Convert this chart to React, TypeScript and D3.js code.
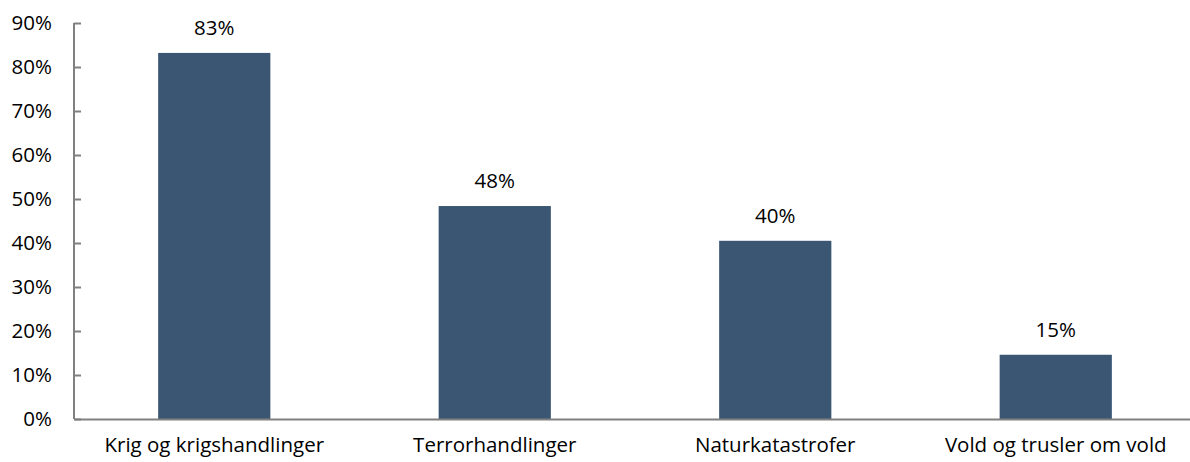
import React, { useEffect, useRef } from "react";
import * as d3 from "d3";

const categories = [
  "Krig og krigshandlinger",
  "Terrorhandlinger",
  "Naturkatastrofer",
  "Vold og trusler om vold",
];
const values = [0.832, 0.484, 0.405, 0.146];
const labels = ["83%", "48%", "40%", "15%"];
const yTicks = [0, 0.1, 0.2, 0.3, 0.4, 0.5, 0.6, 0.7, 0.8, 0.9];

const App: React.FC = () => {
  const ref = useRef<SVGSVGElement | null>(null);

  useEffect(() => {
    const svg = d3.select(ref.current);
    svg.selectAll("*").remove();

    const width = 1190;
    const height = 462;
    const margin = { top: 23, right: -6, bottom: 43, left: 74 };
    const font = "'Open Sans', sans-serif";
    const fontSize = 20.5;

    const x = d3
      .scaleBand()
      .domain(categories)
      .range([margin.left, width - margin.right])
      .paddingInner(0.6)
      .paddingOuter(0.3);

    const y = d3
      .scaleLinear()
      .domain([0, 0.9])
      .range([height - margin.bottom, margin.top]);

    const data = categories.map((c, i) => ({ c, v: values[i], l: labels[i] }));

    svg
      .selectAll(".bar")
      .data(data)
      .enter()
      .append("rect")
      .attr("class", "bar")
      .attr("x", (d) => x(d.c) || 0)
      .attr("y", (d) => y(d.v))
      .attr("width", x.bandwidth())
      .attr("height", (d) => y(0) - y(d.v))
      .attr("fill", "#3a5673");

    svg
      .selectAll(".val")
      .data(data)
      .enter()
      .append("text")
      .attr("class", "val")
      .attr("x", (d) => (x(d.c) || 0) + x.bandwidth() / 2)
      .attr("y", (d) => y(d.v) - 18)
      .attr("text-anchor", "middle")
      .attr("font-family", font)
      .attr("font-size", fontSize)
      .attr("fill", "#000")
      .text((d) => d.l);

    // y axis
    const yAxis = svg
      .append("g")
      .attr("transform", `translate(${margin.left},0)`)
      .call(
        d3
          .axisLeft(y)
          .tickValues(yTicks)
          .tickSize(-7)
          .tickPadding(22)
          .tickFormat(d3.format(".0%"))
      );
    yAxis.select(".domain").remove();
    yAxis.selectAll(".tick line").attr("stroke", "#808080").attr("stroke-width", 2);
    yAxis
      .selectAll(".tick text")
      .attr("font-family", font)
      .attr("font-size", fontSize)
      .attr("fill", "#000");
    svg
      .append("line")
      .attr("x1", margin.left)
      .attr("x2", margin.left)
      .attr("y1", y(0.9))
      .attr("y2", y(0))
      .attr("stroke", "#808080")
      .attr("stroke-width", 2);

    // x axis
    const xAxis = svg
      .append("g")
      .attr("transform", `translate(0,${y(0)})`)
      .call(d3.axisBottom(x).tickSize(0).tickPadding(18));
    xAxis.select(".domain").attr("stroke", "#808080").attr("stroke-width", 2);
    xAxis
      .selectAll(".tick text")
      .attr("font-family", font)
      .attr("font-size", fontSize)
      .attr("fill", "#000");
  }, []);

  return (
    <svg
      ref={ref}
      width={1190}
      height={462}
      style={{ position: "absolute", left: 0, top: 0, background: "#fff" }}
    ></svg>
  );
};

export default App;
